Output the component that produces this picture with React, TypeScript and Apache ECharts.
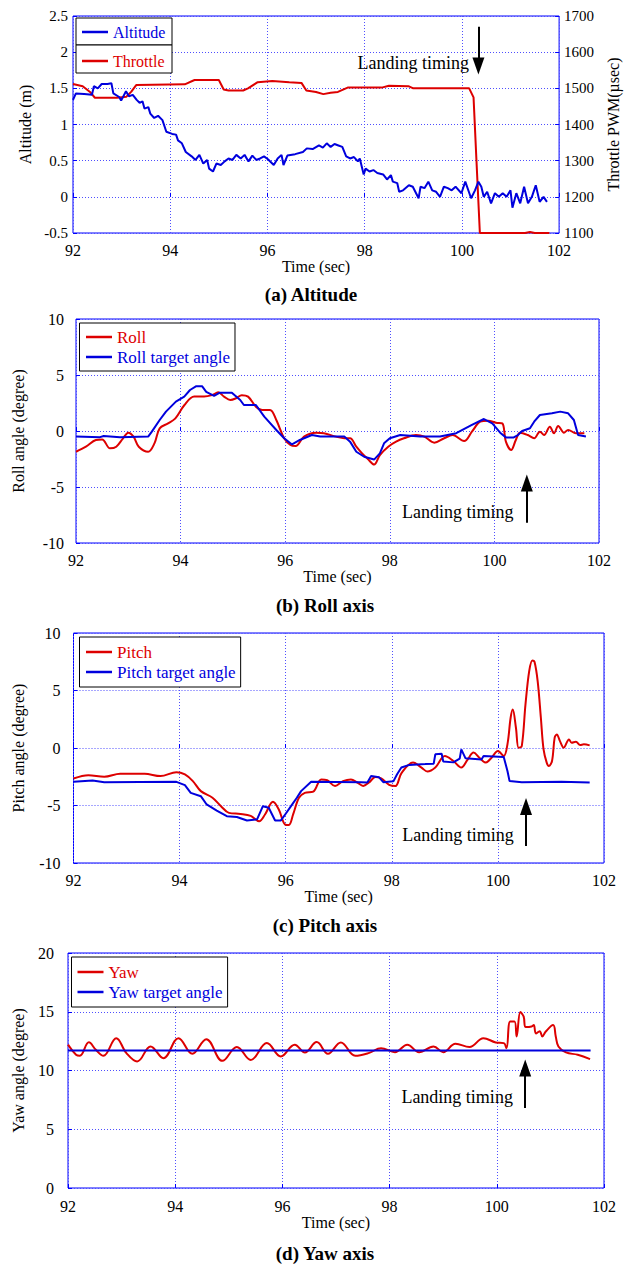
import React, { useEffect, useRef } from 'react';
import * as echarts from 'echarts';

const FONT = '"Liberation Serif", "Times New Roman", Times, serif';
const RED = '#dd0000';
const BLUE = '#0000dd';
const AXIS = '#0000ff';
const GRIDLINE = '#4f4fff';

const captions = ['(a) Altitude', '(b) Roll axis', '(c) Pitch axis', '(d) Yaw axis'];
const landingText = 'Landing timing';

// (a) Altitude [time s, metres]
const altitude: [number, number][] = [
  [92.0, 1.34], [92.06, 1.43], [92.23, 1.42], [92.39, 1.41], [92.43, 1.53], [92.51, 1.5], [92.59, 1.56], [92.71, 1.56],
  [92.79, 1.57], [92.83, 1.43], [92.95, 1.38], [92.99, 1.33], [93.09, 1.46], [93.15, 1.39], [93.23, 1.41], [93.31, 1.34],
  [93.37, 1.3], [93.43, 1.32], [93.47, 1.22], [93.55, 1.24], [93.59, 1.15], [93.67, 1.09], [93.75, 1.12], [93.84, 1.06],
  [93.92, 0.9], [94.04, 0.87], [94.12, 0.86], [94.16, 0.78], [94.24, 0.74], [94.32, 0.62], [94.44, 0.56], [94.52, 0.51],
  [94.6, 0.58], [94.68, 0.46], [94.76, 0.51], [94.8, 0.39], [94.88, 0.35], [94.95, 0.46], [95.04, 0.44], [95.12, 0.49],
  [95.2, 0.53], [95.28, 0.51], [95.36, 0.58], [95.45, 0.53], [95.53, 0.58], [95.61, 0.49], [95.69, 0.57], [95.77, 0.51],
  [95.85, 0.53], [95.93, 0.56], [96.01, 0.52], [96.13, 0.44], [96.21, 0.53], [96.29, 0.58], [96.33, 0.44], [96.41, 0.57],
  [96.57, 0.59], [96.73, 0.62], [96.81, 0.67], [96.93, 0.66], [97.06, 0.71], [97.14, 0.68], [97.22, 0.74], [97.3, 0.69],
  [97.38, 0.73], [97.46, 0.71], [97.54, 0.69], [97.62, 0.56], [97.7, 0.53], [97.78, 0.55], [97.86, 0.49], [97.9, 0.53],
  [97.98, 0.31], [98.02, 0.39], [98.1, 0.35], [98.18, 0.37], [98.26, 0.33], [98.38, 0.31], [98.46, 0.24], [98.54, 0.3],
  [98.58, 0.21], [98.67, 0.19], [98.71, 0.07], [98.79, 0.09], [98.91, 0.16], [98.99, 0.14], [99.11, -0.02], [99.15, 0.14],
  [99.23, 0.12], [99.31, 0.21], [99.39, 0.09], [99.47, 0.07], [99.55, 0.0], [99.63, 0.14], [99.71, 0.12], [99.79, 0.09],
  [99.87, 0.14], [99.99, 0.05], [100.07, 0.21], [100.19, -0.02], [100.27, 0.09], [100.34, 0.21], [100.4, 0.14], [100.45, 0.0],
  [100.52, 0.07], [100.6, -0.09], [100.68, 0.05], [100.76, 0.0], [100.84, 0.05], [100.92, 0.0], [101.0, 0.09], [101.04, -0.15],
  [101.12, 0.05], [101.2, -0.09], [101.28, 0.14], [101.36, -0.09], [101.44, 0.0], [101.52, 0.16], [101.6, -0.07], [101.68, 0.0],
  [101.75, -0.07],
];

// (a) Throttle [time s, PWM usec]
const throttle: [number, number][] = [
  [92.0, 1512], [92.2, 1506], [92.35, 1490], [92.45, 1474], [92.9, 1474], [93.1, 1477], [93.2, 1491], [93.3, 1509],
  [94.3, 1511], [94.5, 1523], [95.0, 1523], [95.1, 1497], [95.2, 1494], [95.5, 1494], [95.6, 1500], [95.8, 1517],
  [96.1, 1520], [96.45, 1517], [96.7, 1515], [96.8, 1494], [97.0, 1490], [97.15, 1484], [97.3, 1488], [97.45, 1490],
  [97.65, 1502], [98.35, 1502], [98.5, 1507], [98.9, 1506], [99.0, 1500], [100.15, 1500], [100.24, 1475], [100.3, 1300],
  [100.37, 1100], [101.3, 1100], [101.4, 1103], [101.5, 1100], [101.8, 1100],
];

// (b) Roll [time s, degree]
const roll: [number, number][] = [
  [92.0, -1.85], [92.19, -1.4], [92.38, -0.8], [92.5, -0.75], [92.65, -1.55], [92.77, -1.4], [92.9, -0.65], [93.0, -0.15],
  [93.1, -0.5], [93.2, -1.4], [93.38, -1.85], [93.5, -1.1], [93.6, 0.24], [93.76, 0.68], [93.9, 1.13], [94.07, 2.3],
  [94.26, 3.07], [94.45, 3.07], [94.6, 3.2], [94.72, 3.45], [94.83, 3.07], [94.95, 2.77], [95.06, 2.92], [95.17, 3.2],
  [95.29, 3.07], [95.44, 2.17], [95.56, 1.88], [95.71, 1.88], [95.83, 0.98], [95.98, -0.65], [96.1, -1.25], [96.2, -1.34],
  [96.36, -0.5], [96.59, -0.15], [96.74, -0.2], [96.97, -0.5], [97.13, -0.65], [97.24, -0.65], [97.36, -1.4], [97.47, -2.0],
  [97.58, -2.5], [97.7, -3.0], [97.81, -2.15], [97.97, -1.4], [98.12, -0.95], [98.27, -0.65], [98.5, -0.36], [98.66, -0.5],
  [98.85, -1.04], [99.04, -0.65], [99.2, -0.36], [99.42, -0.9], [99.57, -0.06], [99.73, 0.83], [99.88, 0.92], [100.03, 0.74],
  [100.15, 0.68], [100.22, -0.95], [100.32, -1.7], [100.41, -0.8], [100.49, -0.15], [100.64, -0.36], [100.76, -0.65], [100.87, -0.06],
  [100.95, -0.36], [101.06, 0.39], [101.14, -0.2], [101.22, 0.45], [101.33, -0.15], [101.41, 0.1], [101.56, -0.2], [101.72, -0.2],
];

const rollTarget: [number, number][] = [
  [92.0, -0.5], [92.46, -0.55], [92.53, -0.45], [92.84, -0.55], [93.38, -0.5], [93.45, -0.06], [93.6, 0.98], [93.72, 1.73],
  [93.91, 2.62], [94.07, 3.07], [94.18, 3.66], [94.3, 4.0], [94.41, 4.0], [94.49, 3.5], [94.64, 3.13], [94.75, 3.42],
  [94.98, 3.42], [95.14, 2.77], [95.21, 2.32], [95.44, 2.32], [95.6, 1.28], [95.83, 0.09], [95.98, -0.65], [96.13, -1.2],
  [96.28, -0.8], [96.51, -0.36], [96.67, -0.5], [97.13, -0.5], [97.24, -0.95], [97.36, -1.85], [97.51, -2.3], [97.7, -2.55],
  [97.81, -2.0], [97.89, -1.1], [98.0, -0.65], [98.2, -0.36], [98.58, -0.5], [98.96, -0.5], [99.27, -0.2], [99.57, 0.54],
  [99.8, 1.07], [99.96, 0.68], [100.11, -0.15], [100.22, -0.57], [100.37, -0.57], [100.45, -0.36], [100.53, 0.0], [100.68, 0.24],
  [100.76, 0.83], [100.87, 1.43], [101.1, 1.58], [101.26, 1.73], [101.41, 1.58], [101.52, 0.98], [101.6, -0.36], [101.75, -0.5],
];

// (c) Pitch [time s, degree]
const pitch: [number, number][] = [
  [92.0, -2.65], [92.28, -2.36], [92.58, -2.5], [92.88, -2.24], [93.34, -2.24], [93.64, -2.44], [93.94, -2.1], [94.1, -2.3],
  [94.25, -2.88], [94.4, -3.75], [94.62, -4.33], [94.78, -5.06], [94.93, -5.64], [95.15, -5.73], [95.34, -5.9], [95.5, -6.37],
  [95.61, -5.78], [95.76, -4.68], [95.87, -5.35], [95.99, -6.66], [96.06, -6.7], [96.14, -5.78], [96.25, -4.33], [96.36, -3.9],
  [96.52, -3.8], [96.67, -2.73], [96.78, -2.8], [96.93, -3.3], [97.08, -2.88], [97.23, -2.73], [97.35, -3.0], [97.46, -3.3],
  [97.57, -3.0], [97.69, -2.53], [97.8, -2.65], [97.95, -3.2], [98.07, -3.3], [98.18, -2.2], [98.4, -1.27], [98.56, -1.7],
  [98.67, -2.05], [98.82, -1.7], [99.0, -0.7], [99.16, -1.13], [99.31, -1.7], [99.43, -1.0], [99.54, -0.4], [99.65, -0.84],
  [99.77, -1.27], [99.88, -0.84], [100.0, -0.26], [100.11, -0.7], [100.18, 0.32], [100.24, 2.63], [100.28, 3.35], [100.34, 1.76],
  [100.39, 0.03], [100.45, 0.17], [100.52, 3.79], [100.59, 6.68], [100.65, 7.6], [100.69, 7.5], [100.75, 5.8], [100.81, 2.63],
  [100.86, -0.1], [100.92, -1.27], [100.96, -1.56], [101.02, -1.13], [101.07, 0.9], [101.11, 1.18], [101.17, 0.6], [101.24, 0.03],
  [101.34, 0.75], [101.39, 0.46], [101.47, 0.55], [101.55, 0.26], [101.62, 0.32], [101.73, 0.23],
];

const pitchTarget: [number, number][] = [
  [92.0, -2.94], [92.36, -2.83], [92.58, -2.97], [93.94, -2.94], [94.1, -3.23], [94.21, -3.9], [94.4, -4.19], [94.51, -4.91],
  [94.7, -5.44], [94.89, -5.93], [95.08, -6.0], [95.27, -6.3], [95.46, -6.2], [95.57, -5.06], [95.68, -5.2], [95.8, -6.3],
  [95.91, -6.3], [95.99, -5.78], [96.1, -5.06], [96.21, -4.33], [96.29, -3.75], [96.48, -2.94], [97.42, -2.97], [97.54, -3.0],
  [97.61, -2.44], [97.76, -2.55], [97.84, -2.97], [98.03, -2.9], [98.1, -2.28], [98.18, -1.7], [98.33, -1.47], [98.63, -1.4],
  [98.79, -1.36], [98.82, -0.55], [98.94, -0.5], [98.97, -1.18], [99.16, -1.25], [99.28, -0.92], [99.31, -0.12], [99.39, -0.9],
  [99.69, -1.0], [99.73, -0.7], [100.11, -0.78], [100.18, -2.0], [100.22, -2.88], [100.45, -2.97], [101.2, -2.94], [101.73, -3.0],
];

// (d) Yaw [time s, degree]
const yaw: [number, number][] = [
  [92.0, 12.2], [92.15, 11.34], [92.22, 11.25], [92.39, 12.4], [92.52, 11.76], [92.66, 11.25], [92.9, 12.75], [93.09, 11.48],
  [93.29, 10.77], [93.54, 12.05], [93.78, 11.05], [94.06, 12.75], [94.32, 11.42], [94.58, 12.66], [94.88, 10.82], [95.15, 12.0],
  [95.41, 10.9], [95.71, 12.33], [95.97, 11.2], [96.23, 12.2], [96.42, 11.54], [96.64, 12.42], [96.85, 11.42], [97.09, 12.39],
  [97.36, 11.25], [97.62, 11.5], [97.84, 11.9], [98.1, 11.56], [98.33, 12.2], [98.55, 11.56], [98.82, 12.05], [99.0, 11.56],
  [99.23, 12.27], [99.49, 12.0], [99.75, 12.75], [99.98, 12.39], [100.13, 12.33], [100.18, 11.9], [100.25, 14.17], [100.33, 14.17],
  [100.37, 12.9], [100.44, 14.97], [100.5, 14.6], [100.54, 13.7], [100.65, 13.75], [100.69, 13.87], [100.73, 13.15], [100.8, 13.35],
  [100.85, 12.9], [100.91, 13.3], [101.05, 13.87], [101.1, 12.9], [101.15, 12.05], [101.29, 11.54], [101.51, 11.34], [101.74, 10.97],
];

const yawTarget: [number, number][] = [[92.0, 11.7], [101.75, 11.7]];

// annotation anchors in data space: [arrowX, tailY, headY, textX, textY]
const landingA = [100.34, 2.35, 1.81, 99.0, 1.85];
const landingB = [100.62, -8.2, -4.64, 99.3, -7.23];
const landingC = [100.53, -8.53, -5.09, 99.25, -7.6];
const landingD = [100.53, 6.8, 10.21, 99.26, 7.74];

const grids = [
  { left: 73, top: 16, width: 499, height: 217 },
  { left: 76, top: 319, width: 523, height: 224 },
  { left: 73.5, top: 633, width: 530.5, height: 230 },
  { left: 68, top: 953, width: 536, height: 235 },
];

function annotate(a: number[]) {
  return {
    markLine: {
      silent: true,
      symbol: ['none', 'triangle'],
      symbolSize: [12, 17],
      lineStyle: { color: '#000', width: 2, type: 'solid' },
      label: { show: false },
      emphasis: { disabled: true },
      data: [[{ coord: [a[0], a[1]] }, { coord: [a[0], a[2]] }]],
    },
    markPoint: {
      silent: true,
      symbol: 'rect',
      symbolSize: 1,
      itemStyle: { color: 'rgba(0,0,0,0)' },
      label: {
        show: true,
        position: 'inside',
        formatter: landingText,
        color: '#000',
        fontSize: 18,
        fontFamily: FONT,
      },
      data: [{ coord: [a[3], a[4]] }],
    },
  };
}

const plain = (v: number) => String(v);

export default function App() {
  const ref = useRef<HTMLDivElement>(null);
  useEffect(() => {
    document.body.style.margin = '0';
    const chart = echarts.init(ref.current!, undefined, { renderer: 'svg' });

    const xAxisBase = (i: number, margin: number) => ({
      type: 'value',
      gridIndex: i,
      min: 92,
      max: 102,
      interval: 2,
      name: 'Time (sec)',
      nameLocation: 'middle',
      nameGap: 23,
      nameTextStyle: { color: '#000', fontSize: 16, fontFamily: FONT },
      axisLine: { show: false },
      axisTick: { show: true, inside: true, length: 4, lineStyle: { color: AXIS } },
      axisLabel: { color: '#000', fontSize: 16, fontFamily: FONT, margin, formatter: plain },
      splitLine: { show: true, lineStyle: { color: GRIDLINE, type: [1, 2], width: 1 } },
    });

    const yAxisBase = (i: number, min: number, max: number, interval: number, name: string, gap: number, margin: number, fs: number) => ({
      type: 'value',
      gridIndex: i,
      min,
      max,
      interval,
      name,
      nameLocation: 'middle',
      nameGap: gap,
      nameTextStyle: { color: '#000', fontSize: 16, fontFamily: FONT },
      axisLine: { show: false },
      axisTick: { show: true, inside: true, length: 4, lineStyle: { color: AXIS } },
      axisLabel: { color: '#000', fontSize: fs, fontFamily: FONT, margin, formatter: plain },
      splitLine: { show: true, lineStyle: { color: GRIDLINE, type: [1, 2], width: 1 } },
    });

    const lineSeries = (name: string, data: [number, number][], color: string, xi: number, yi: number, smooth: number | boolean, extra: any = {}) => ({
      type: 'line',
      name,
      data,
      xAxisIndex: xi,
      yAxisIndex: yi,
      showSymbol: false,
      symbol: 'none',
      smooth,
      lineStyle: { color, width: 2 },
      itemStyle: { color },
      z: 3,
      ...extra,
    });

    const legendBase = {
      orient: 'vertical',
      icon: 'rect',
      itemWidth: 26,
      itemHeight: 2.5,
      itemGap: 2,
      borderColor: '#000',
      borderWidth: 1,
      backgroundColor: '#fff',
      borderRadius: 0,
      selectedMode: false,
      z: 6,
    };

    const option: any = {
      animation: false,
      grid: grids.map((g) => ({ ...g, show: true, borderColor: AXIS, borderWidth: 1, backgroundColor: 'transparent' })),
      xAxis: [xAxisBase(0, 9), xAxisBase(1, 9), xAxisBase(2, 9), xAxisBase(3, 10)],
      yAxis: [
        yAxisBase(0, -0.5, 2.5, 0.5, 'Altitude (m)', 38, 5, 15),
        { ...yAxisBase(0, 1100, 1700, 100, 'Throttle PWM(\u00b5sec)', 38, 5, 15), position: 'right', splitLine: { show: false } },
        yAxisBase(1, -10, 10, 5, 'Roll angle (degree)', 50, 12, 16),
        yAxisBase(2, -10, 10, 5, 'Pitch angle (degree)', 47, 13, 16),
        yAxisBase(3, 0, 20, 5, 'Yaw angle (degree)', 42, 14, 16),
      ],
      legend: [
        {
          ...legendBase, borderWidth: 0, backgroundColor: 'transparent', left: 82, top: 23, padding: 0,
          data: [{ name: 'Altitude', textStyle: { color: BLUE } }],
          textStyle: { fontSize: 16, fontFamily: FONT, lineHeight: 18 },
        },
        {
          ...legendBase, borderWidth: 0, backgroundColor: 'transparent', left: 82, top: 52, padding: 0,
          data: [{ name: 'Throttle', textStyle: { color: RED } }],
          textStyle: { fontSize: 16, fontFamily: FONT, lineHeight: 18 },
        },
        {
          ...legendBase, left: 79.5, top: 323, padding: [5, 5, 5, 6.5],
          data: [{ name: 'Roll', textStyle: { color: RED } }, { name: 'Roll target angle', textStyle: { color: BLUE } }],
          textStyle: { fontSize: 17, fontFamily: FONT, lineHeight: 18 },
        },
        {
          ...legendBase, left: 79.5, top: 637, padding: [6, 5, 6, 6.5],
          data: [{ name: 'Pitch', textStyle: { color: RED } }, { name: 'Pitch target angle', textStyle: { color: BLUE } }],
          textStyle: { fontSize: 17, fontFamily: FONT, lineHeight: 18 },
        },
        {
          ...legendBase, left: 71.5, top: 957, padding: [6, 5, 6, 6],
          data: [{ name: 'Yaw', textStyle: { color: RED } }, { name: 'Yaw target angle', textStyle: { color: BLUE } }],
          textStyle: { fontSize: 17, fontFamily: FONT, lineHeight: 18 },
        },
      ],
      graphic: [
        { type: 'rect', z: 5, shape: { x: 76, y: 18, width: 96, height: 27 }, style: { fill: '#fff', stroke: '#000', lineWidth: 1 } },
        { type: 'rect', z: 5, shape: { x: 76, y: 45, width: 96, height: 28 }, style: { fill: '#fff', stroke: '#000', lineWidth: 1 } },
        ...[294, 605, 925, 1253].map((y, i) => ({
          type: 'text',
          x: i === 0 ? 311 : 325,
          y,
          style: {
            text: captions[i],
            fill: '#000',
            font: `bold 19px ${FONT}`,
            textAlign: 'center',
            textVerticalAlign: 'middle',
          },
        })),
      ],
      series: [
        lineSeries('Throttle', throttle, RED, 0, 1, false),
        lineSeries('Altitude', altitude, BLUE, 0, 0, false, annotate(landingA)),
        lineSeries('Roll', roll, RED, 1, 2, 0.35),
        lineSeries('Roll target angle', rollTarget, BLUE, 1, 2, false, annotate(landingB)),
        lineSeries('Pitch', pitch, RED, 2, 3, 0.35),
        lineSeries('Pitch target angle', pitchTarget, BLUE, 2, 3, false, annotate(landingC)),
        lineSeries('Yaw', yaw, RED, 3, 4, 0.4),
        lineSeries('Yaw target angle', yawTarget, BLUE, 3, 4, false, annotate(landingD)),
      ],
    };
    chart.setOption(option);
    return () => chart.dispose();
  }, []);
  return <div ref={ref} style={{ position: 'absolute', left: 0, top: 0, width: 629, height: 1266, background: '#fff' }} />;
}
